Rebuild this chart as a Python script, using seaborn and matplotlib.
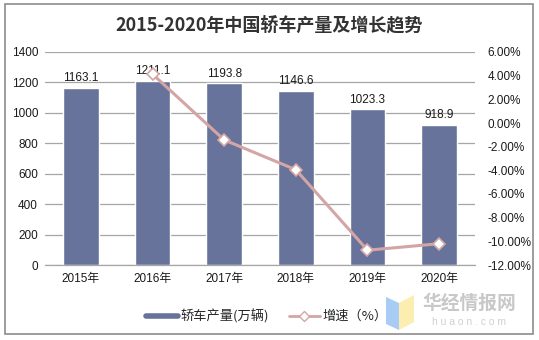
import matplotlib
matplotlib.use("Agg")
import matplotlib.pyplot as plt
import seaborn as sns
import pandas as pd
from matplotlib.lines import Line2D
from matplotlib.patches import Rectangle, Polygon

years = ["2015年", "2016年", "2017年", "2018年", "2019年", "2020年"]
output = [1163.1, 1211.1, 1193.8, 1146.6, 1023.3, 918.9]
growth_years = ["2016年", "2017年", "2018年", "2019年", "2020年"]
growth = [4.13, -1.43, -3.95, -10.75, -10.20]

sns.set_theme(style="white")
plt.rcParams["font.family"] = ["Liberation Sans", "Noto Sans CJK SC", "DejaVu Sans"]

bar_color = "#67739a"
line_color = "#d4a5a5"
grid_color = "#a6a6a6"

fig = plt.figure(figsize=(5.39, 3.40), dpi=100)
W, H = 539, 340
ax = fig.add_axes([45 / W, 1 - 265 / H, (475 - 45) / W, (265 - 52) / H])

df = pd.DataFrame({"year": years, "output": output})
sns.barplot(data=df, x="year", y="output", color=bar_color, saturation=1,
            width=0.5, ax=ax, zorder=2)

ax.set_ylim(0, 1400)
ax.set_yticks(range(0, 1401, 200))
ax.set_xlim(-0.5, 5.5)
ax.set_xlabel("")
ax.set_ylabel("")
ax.yaxis.grid(True, color=grid_color, linewidth=0.9)
ax.set_axisbelow(True)
for s in ["top", "right", "left"]:
    ax.spines[s].set_visible(False)
ax.spines["bottom"].set_color(grid_color)
ax.spines["bottom"].set_linewidth(0.9)
ax.tick_params(axis="y", length=0, labelsize=8.5, pad=5, colors="#1a1a1a")
ax.tick_params(axis="x", length=0, labelsize=8.5, pad=6, colors="#1a1a1a")
ax.set_xticks(range(6))
ax.set_xticklabels(years, fontfamily=["Liberation Sans", "Noto Sans CJK SC"])
ax.set_xticks([i - 0.5 for i in range(7)], minor=True)
ax.tick_params(axis="x", which="minor", length=4, width=0.9, color=grid_color, direction="out")

for i, v in enumerate(output):
    ax.text(i, v + 25, f"{v:.1f}", ha="center", va="bottom", fontsize=8.5, color="#1a1a1a")

ax2 = ax.twinx()
gpos = [years.index(y) for y in growth_years]
sns.lineplot(x=gpos, y=growth, ax=ax2, color=line_color, linewidth=2.2,
             marker="D", markersize=6, markerfacecolor="white",
             markeredgecolor=line_color, markeredgewidth=1.2, zorder=3)
ax2.set_ylim(-12, 6)
ax2.set_yticks(range(-12, 7, 2))
ax2.set_yticklabels([f"{t:.2f}%" for t in range(-12, 7, 2)])
ax2.tick_params(axis="y", length=0, labelsize=8.5, pad=9, colors="#1a1a1a")
for s in ax2.spines.values():
    s.set_visible(False)
ax2.set_ylabel("")

fig.text(0.5, 1 - 25 / H, "2015-2020年中国轿车产量及增长趋势", ha="center", va="center",
         fontsize=13, fontweight="bold", color="#333333",
         fontfamily=["Noto Sans CJK SC", "DejaVu Sans"])

handles = [
    Line2D([0], [0], color=bar_color, linewidth=4),
    Line2D([0], [0], color=line_color, linewidth=2, marker="D", markersize=5,
           markerfacecolor="white", markeredgecolor=line_color),
]
leg = fig.legend(handles, ["轿车产量(万辆)", "增速（%）"], loc="center",
                 bbox_to_anchor=(267 / W, 1 - 316 / H), ncol=2, frameon=False,
                 handlelength=2.4, columnspacing=1.5, handletextpad=0.2,
                 prop={"family": ["Noto Sans CJK SC", "DejaVu Sans"], "size": 9.5})

# watermark
fig.patches.append(Polygon([[386 / W, 1 - 297 / H], [399 / W, 1 - 303 / H], [399 / W, 1 - 330 / H], [386 / W, 1 - 324 / H]],
                           closed=True, transform=fig.transFigure, facecolor="#a9ccf5", edgecolor="none"))
fig.patches.append(Polygon([[399 / W, 1 - 303 / H], [414 / W, 1 - 295 / H], [414 / W, 1 - 322 / H], [399 / W, 1 - 330 / H]],
                           closed=True, transform=fig.transFigure, facecolor="#fbeeb0", edgecolor="none"))
fig.text(469 / W, 1 - 303 / H, "华经情报网", ha="center", va="center", fontsize=13.5,
         fontweight="bold", color="#c8c8c8", fontfamily=["Noto Sans CJK SC"])
fig.text(469 / W, 1 - 322 / H, "h u a o n . c o m", ha="center", va="center", fontsize=7.5,
         color="#d0d0d0")

fig.patches.append(Rectangle((5 / W, 1 - 334 / H), (533 - 5) / W, (334 - 4) / H,
                             transform=fig.transFigure, fill=False,
                             edgecolor="#8c8c8c", linewidth=1.2))

fig.savefig("out.png", dpi=100)
